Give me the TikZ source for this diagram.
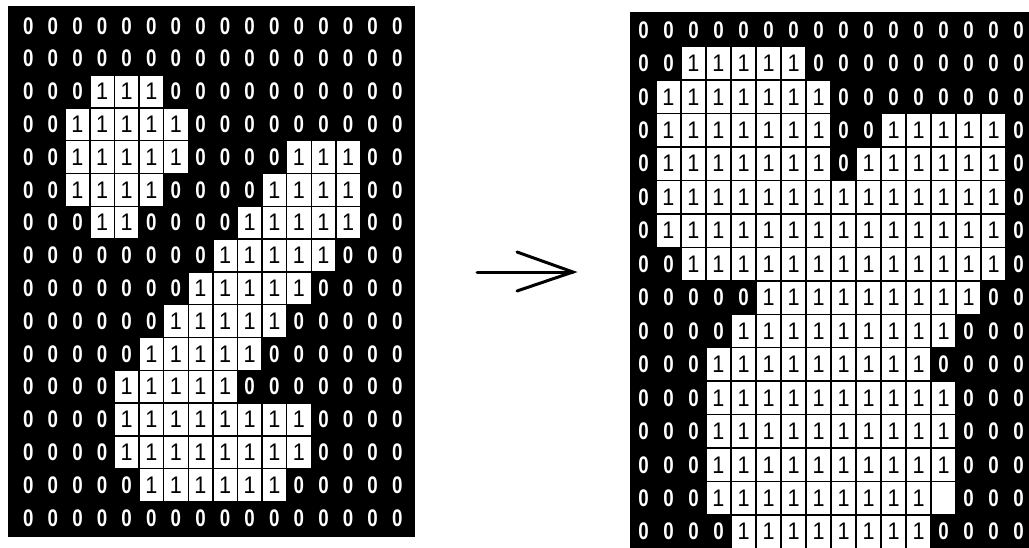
\documentclass[tikz,border=0pt]{standalone}
\usepackage{fontspec}
\setmainfont{Liberation Sans}
\begin{document}
\begin{tikzpicture}[x=1pt,y=-1pt,
  panel/.style={fill=black,draw=none},
  whitecell/.style={fill=white,draw=none},
  cellborder/.style={draw=black,line width=1.4pt},
  zero/.style={text=white,inner sep=0pt,font=\fontsize{24}{24}\selectfont\bfseries,xscale=0.78},
  one/.style={text=black,inner sep=0pt,font=\fontsize{24}{24}\selectfont,xscale=0.9},
  arrowline/.style={draw=black,line width=3pt,line cap=round}]
\useasboundingbox (0,0) rectangle (1029,547);
\fill[white] (0,0) rectangle (1029,547);

% grid macro: #1 prefix, #2 x0, #3 y0, #4 cell w, #5 cell h, #6 rows
\newcommand\binarygrid[6]{%
  \foreach \rowlist [count=\r from 0] in {#6} {
    \foreach \v [count=\c from 0] in \rowlist {
      \ifnum\v>0
        \path[whitecell] ({#2+\c*#4},{#3+\r*#5}) rectangle ++(#4,#5);
      \fi
    }
  }
  \foreach \rowlist [count=\r from 0] in {#6} {
    \foreach \v [count=\c from 0] in \rowlist {
      \ifnum\v=0
        \node[zero] (#1-\r-\c) at ({#2+(\c+0.5)*#4},{#3+(\r+0.5)*#5}) {0};
      \else
        \path[cellborder] ({#2+\c*#4},{#3+\r*#5}) rectangle ++(#4,#5);
        \ifnum\v=1
          \node[one] (#1-\r-\c) at ({#2+(\c+0.5)*#4},{#3+(\r+0.5)*#5}) {1};
        \fi
      \fi
    }
  }
}

% left panel
\path[panel] (8,6) rectangle (415,537);
\binarygrid{L}{16}{9.5}{24.6}{32.8}{%
{0,0,0,0,0,0,0,0,0,0,0,0,0,0,0,0},
{0,0,0,0,0,0,0,0,0,0,0,0,0,0,0,0},
{0,0,0,1,1,1,0,0,0,0,0,0,0,0,0,0},
{0,0,1,1,1,1,1,0,0,0,0,0,0,0,0,0},
{0,0,1,1,1,1,1,0,0,0,0,1,1,1,0,0},
{0,0,1,1,1,1,0,0,0,0,1,1,1,1,0,0},
{0,0,0,1,1,0,0,0,0,1,1,1,1,1,0,0},
{0,0,0,0,0,0,0,0,1,1,1,1,1,0,0,0},
{0,0,0,0,0,0,0,1,1,1,1,1,0,0,0,0},
{0,0,0,0,0,0,1,1,1,1,1,0,0,0,0,0},
{0,0,0,0,0,1,1,1,1,1,0,0,0,0,0,0},
{0,0,0,0,1,1,1,1,1,0,0,0,0,0,0,0},
{0,0,0,0,1,1,1,1,1,1,1,1,0,0,0,0},
{0,0,0,0,1,1,1,1,1,1,1,1,0,0,0,0},
{0,0,0,0,0,1,1,1,1,1,1,0,0,0,0,0},
{0,0,0,0,0,0,0,0,0,0,0,0,0,0,0,0}}

% right panel
\path[panel] (630,11.5) rectangle (1040,560);
\binarygrid{R}{631}{13.2}{25}{33.45}{%
{0,0,0,0,0,0,0,0,0,0,0,0,0,0,0,0},
{0,0,1,1,1,1,1,0,0,0,0,0,0,0,0,0},
{0,1,1,1,1,1,1,1,0,0,0,0,0,0,0,0},
{0,1,1,1,1,1,1,1,0,0,1,1,1,1,1,0},
{0,1,1,1,1,1,1,1,0,1,1,1,1,1,1,0},
{0,1,1,1,1,1,1,1,1,1,1,1,1,1,1,0},
{0,1,1,1,1,1,1,1,1,1,1,1,1,1,1,0},
{0,0,1,1,1,1,1,1,1,1,1,1,1,1,1,0},
{0,0,0,0,0,1,1,1,1,1,1,1,1,1,0,0},
{0,0,0,0,1,1,1,1,1,1,1,1,1,0,0,0},
{0,0,0,1,1,1,1,1,1,1,1,1,0,0,0,0},
{0,0,0,1,1,1,1,1,1,1,1,1,1,0,0,0},
{0,0,0,1,1,1,1,1,1,1,1,1,1,0,0,0},
{0,0,0,1,1,1,1,1,1,1,1,1,1,0,0,0},
{0,0,0,1,1,1,1,1,1,1,1,1,2,0,0,0},
{0,0,0,0,1,1,1,1,1,1,1,1,0,0,0,0}}

% arrow
\coordinate (arrowtail) at (477,272);
\coordinate (arrowtip) at (573,272);
\coordinate (barbup) at (517,252);
\coordinate (barbdown) at (517,291);
\draw[arrowline] (arrowtail) -- (arrowtip);
\draw[arrowline,line join=miter] (barbup) -- (arrowtip) -- (barbdown);
\end{tikzpicture}
\end{document}
